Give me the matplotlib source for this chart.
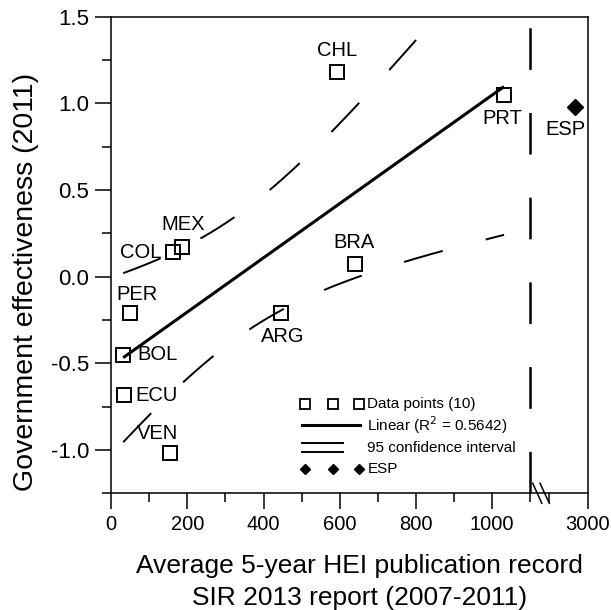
import numpy as np
import matplotlib
matplotlib.use("Agg")
import matplotlib.pyplot as plt

plt.rcParams['font.family'] = ['Liberation Sans', 'DejaVu Sans']
plt.rcParams['axes.unicode_minus'] = False
plt.rcParams['lines.scale_dashes'] = False

# ---------------- data ----------------
COUNTRIES = ['CHL', 'PRT', 'MEX', 'COL', 'PER', 'BOL', 'ECU', 'VEN', 'ARG', 'BRA']
X_PUB = [594, 1031, 187, 162, 50, 32, 33, 154, 446, 639]
Y_GE = [1.179, 1.050, 0.169, 0.140, -0.212, -0.452, -0.683, -1.018, -0.212, 0.071]
ESP_NAME = ['ESP']
ESP_X = [2968]
ESP_Y = [0.980]

X_TICKS = [0, 200, 400, 600, 800, 1000, 3000]
X_TICK_LABELS = ['0', '200', '400', '600', '800', '1000', '3000']
X_MINOR = [100, 300, 500, 700, 900, 1100, 2900]
Y_TICKS = [-1.0, -0.5, 0.0, 0.5, 1.0, 1.5]
Y_TICK_LABELS = ['-1.0', '-0.5', '0.0', '0.5', '1.0', '1.5']
Y_MINOR = [-1.25, -0.75, -0.25, 0.25, 0.75, 1.25]
SEPARATOR_X = 1100
T_CRIT = 2.306  # t(0.975, df=8)

# label offsets (pixels)
LABEL_OFFSETS = {'CHL': (0, 22), 'PRT': (-2, -24), 'MEX': (1, 23), 'COL': (-32, 0),
                 'PER': (7, 19), 'BOL': (34, 0), 'ECU': (33, 0), 'VEN': (-12, 20),
                 'ARG': (2, -23), 'BRA': (-1, 22), 'ESP': (-10, -23)}

# broken x axis scale
BRK_LO, BRK_HI, GAP_W = 1110.0, 2900.0, 40.0


def fwd(x):
    x = np.asarray(x, dtype=float)
    return np.where(x <= BRK_LO, x,
                    np.where(x >= BRK_HI, x - BRK_HI + BRK_LO + GAP_W,
                             BRK_LO + (x - BRK_LO) * GAP_W / (BRK_HI - BRK_LO)))


def inv(y):
    y = np.asarray(y, dtype=float)
    return np.where(y <= BRK_LO, y,
                    np.where(y >= BRK_LO + GAP_W, y + BRK_HI - BRK_LO - GAP_W,
                             BRK_LO + (y - BRK_LO) * (BRK_HI - BRK_LO) / GAP_W))


fig = plt.figure(figsize=(6.11, 6.10), dpi=100)
ax = fig.add_axes([0.1817, 0.1913, 0.7799, 0.7816])
ax.set_xscale('function', functions=(fwd, inv))
ax.set_xlim(0, 3000)
ax.set_ylim(-1.25, 1.5)

x = np.array(X_PUB, dtype=float)
y = np.array(Y_GE, dtype=float)
n = len(x)
b1, b0 = np.polyfit(x, y, 1)
xs = np.linspace(x.min(), x.max(), 300)
yfit = b0 + b1 * xs
resid = y - (b0 + b1 * x)
s = np.sqrt(np.sum(resid ** 2) / (n - 2))
sxx = np.sum((x - x.mean()) ** 2)
half = T_CRIT * s * np.sqrt(1.0 / n + (xs - x.mean()) ** 2 / sxx)

ax.plot(xs, yfit, color='black', lw=2.2, solid_capstyle='butt', zorder=3)
ax.plot(xs, yfit + half, color='black', lw=1.4, dashes=(29, 32), zorder=3)
ax.plot(xs, yfit - half, color='black', lw=1.4, dashes=(29, 32), zorder=3)

ax.plot(x, y, ls='none', marker='s', ms=10.5, mfc='none', mec='black', mew=1.4, zorder=4)
ax.plot(ESP_X, ESP_Y, ls='none', marker='D', ms=8, mfc='black', mec='black', zorder=4)

for name, xi, yi in zip(COUNTRIES + ESP_NAME, list(X_PUB) + ESP_X, list(Y_GE) + ESP_Y):
    dx, dy = LABEL_OFFSETS[name]
    ax.annotate(name, (xi, yi), xytext=(dx, dy), textcoords='offset pixels',
                ha='center', va='center', fontsize=14.5)

ax.axvline(SEPARATOR_X, color='black', lw=1.8, dashes=(30, 31), zorder=2)

# ticks
ax.xaxis.set_major_locator(matplotlib.ticker.FixedLocator(X_TICKS))
ax.xaxis.set_major_formatter(matplotlib.ticker.FixedFormatter(X_TICK_LABELS))
ax.xaxis.set_minor_locator(matplotlib.ticker.FixedLocator(X_MINOR))
ax.xaxis.set_minor_formatter(matplotlib.ticker.NullFormatter())
ax.set_yticks(Y_TICKS)
ax.set_yticklabels(Y_TICK_LABELS)
ax.set_yticks(Y_MINOR, minor=True)
ax.tick_params(which='major', direction='out', length=11.5, width=1.1, pad=4)
ax.tick_params(axis='x', which='major', labelsize=14.5)
ax.tick_params(axis='y', which='major', labelsize=16)
ax.tick_params(which='minor', direction='out', length=6.3, width=1.1)
for sp in ax.spines.values():
    sp.set_linewidth(1.1)

# break marks on x axis
for (x0, x1) in [(0.885, 0.904), (0.9003, 0.9198)]:
    ax.plot([x0, x1], [0.021, -0.021], transform=ax.transAxes, color='black',
            lw=1.1, clip_on=False, zorder=5)

ax.set_xlabel('Average 5-year HEI publication record\nSIR 2013 report (2007-2011)',
              fontsize=19, linespacing=1.4)
ax.xaxis.set_label_coords(0.522, -0.128)
ax.set_ylabel('Government effectiveness (2011)', fontsize=20.5)
ax.yaxis.set_label_coords(-0.152, 0.443)

# legend (drawn manually)
T = ax.transAxes
kw = dict(transform=T, clip_on=False, color='black')
ax.plot([0.4071, 0.4653, 0.5205], [0.1873] * 3, ls='none', marker='s', ms=7,
        mfc='none', mec='black', mew=1.3, transform=T)
ax.text(0.5379, 0.1873, 'Data points (10)', transform=T, va='center', ha='left', fontsize=11)
ax.plot([0.4002, 0.5226], [0.1432, 0.1432], lw=2.2, **kw)
ax.text(0.5379, 0.1432, 'Linear (R$^{2}$ = 0.5642)', transform=T, va='center', ha='left', fontsize=11)
ax.plot([0.4002, 0.4875], [0.1061, 0.1061], lw=1.4, **kw)
ax.plot([0.4002, 0.4875], [0.0872, 0.0872], lw=1.4, **kw)
ax.text(0.5379, 0.0944, '95 confidence interval', transform=T, va='center', ha='left', fontsize=11)
ax.plot([0.4071, 0.4653, 0.5205], [0.0503] * 3, ls='none', marker='D', ms=5.5,
        mfc='black', mec='black', transform=T)
ax.text(0.5379, 0.0503, 'ESP', transform=T, va='center', ha='left', fontsize=11)

fig.savefig('out.png', dpi=100)
